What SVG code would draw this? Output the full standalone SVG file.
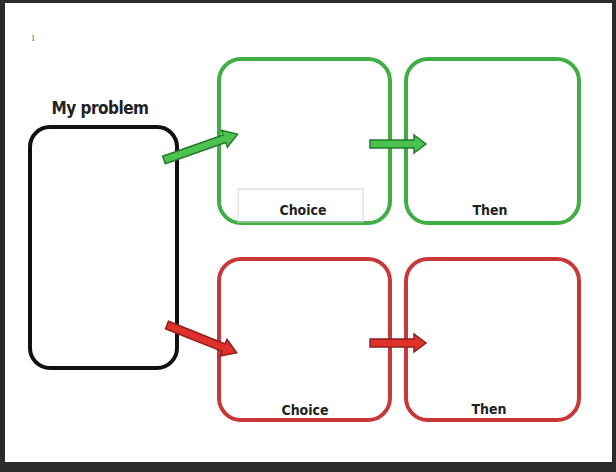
<svg xmlns="http://www.w3.org/2000/svg" width="616" height="472" viewBox="0 0 616 472">
<style>
.lbl{font-family:"DejaVu Sans Condensed","Liberation Sans",sans-serif;font-weight:bold;fill:#222;text-anchor:middle}
.g{fill:none;stroke:#3fae45;stroke-width:4}
.r{fill:none;stroke:#c8383a;stroke-width:4}
.ga{fill:#4cc24f;stroke:#237a2c;stroke-width:1.5;stroke-linejoin:miter}
.ra{fill:#e0302a;stroke:#8e1f1c;stroke-width:1.5}
</style>
<defs>
<path id="arr56" d="M0,-4 L44,-4 L44,-9 L56,0 L44,9 L44,4 L0,4 Z"/>
<path id="arr78" d="M0,-4 L64,-4 L64,-9 L78,0 L64,9 L64,4 L0,4 Z"/>
<path id="arr75" d="M0,-4 L61,-4 L61,-9 L75,0 L61,9 L61,4 L0,4 Z"/>
</defs>
<rect x="0" y="0" width="616" height="472" fill="#2b2b2b"/>
<rect x="5" y="3" width="607" height="459" fill="#ffffff"/>
<text x="33" y="41" font-family="Liberation Serif,serif" font-size="9" fill="#666" text-anchor="middle">1</text>
<g id="problem">
<rect x="30" y="127" width="147" height="241" rx="20" fill="none" stroke="#111" stroke-width="4"/>
<text class="lbl" x="100" y="114" font-size="17" letter-spacing="-0.5">My problem</text>
</g>
<g id="choice-good">
<rect x="219" y="59" width="171" height="164" rx="22" class="g"/>
<rect x="238" y="189" width="125" height="33" fill="none" stroke="#d6d6d6" stroke-width="1"/>
<text class="lbl" x="303" y="215" font-size="14">Choice</text>
</g>
<g id="then-good">
<rect x="406" y="59" width="173" height="164" rx="22" class="g"/>
<text class="lbl" x="490" y="215" font-size="14">Then</text>
</g>
<g id="choice-bad">
<rect x="219" y="259" width="171" height="161" rx="22" class="r"/>
<text class="lbl" x="305" y="415" font-size="14">Choice</text>
</g>
<g id="then-bad">
<rect x="406" y="259" width="173" height="161" rx="22" class="r"/>
<text class="lbl" x="489" y="414" font-size="14">Then</text>
</g>
<g id="connectors">
<use href="#arr78" class="ga" transform="translate(164,160) rotate(-19.4)"/>
<use href="#arr56" class="ga" transform="translate(370,144)"/>
<use href="#arr75" class="ra" transform="translate(167,325) rotate(21.8)"/>
<use href="#arr56" class="ra" transform="translate(370,343)"/>
</g>
</svg>
